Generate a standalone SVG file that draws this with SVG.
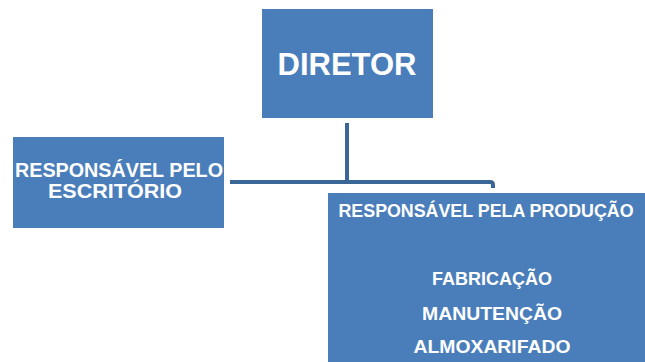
<svg xmlns="http://www.w3.org/2000/svg" width="645" height="362" viewBox="0 0 645 362">
  <style>
    .box { fill: #4a7ebb; }
    .lbl { fill: #ffffff; font-family: "Liberation Sans", Arial, sans-serif; font-weight: bold; text-anchor: middle; }
    .link { fill: none; stroke: #3a6795; stroke-width: 4; stroke-linejoin: round; stroke-linecap: butt; }
  </style>
  <rect width="645" height="362" fill="#ffffff"/>

  <g id="connectors">
    <path class="link" d="M347 123 V182"/>
    <path class="link" d="M230 182 H490 Q493 182 493 185 V188"/>
  </g>

  <g id="diretor">
    <rect class="box" x="262" y="9" width="171" height="109"/>
    <text class="lbl" x="347" y="75" font-size="32" textLength="139" lengthAdjust="spacingAndGlyphs">DIRETOR</text>
  </g>

  <g id="escritorio">
    <rect class="box" x="13" y="137" width="211" height="91"/>
    <text class="lbl" x="119" y="177" font-size="21" textLength="208" lengthAdjust="spacingAndGlyphs">RESPONSÁVEL PELO</text>
    <text class="lbl" x="115" y="198" font-size="21" textLength="134" lengthAdjust="spacingAndGlyphs">ESCRITÓRIO</text>
  </g>

  <g id="producao">
    <rect class="box" x="328" y="193" width="317" height="169"/>
    <text class="lbl" x="486" y="217" font-size="17.5" textLength="295" lengthAdjust="spacingAndGlyphs">RESPONSÁVEL PELA PRODUÇÃO</text>
    <text class="lbl" x="492" y="285" font-size="18" textLength="120" lengthAdjust="spacingAndGlyphs">FABRICAÇÃO</text>
    <text class="lbl" x="492" y="320" font-size="18" textLength="140" lengthAdjust="spacingAndGlyphs">MANUTENÇÃO</text>
    <text class="lbl" x="492" y="353" font-size="18" textLength="157" lengthAdjust="spacingAndGlyphs">ALMOXARIFADO</text>
  </g>
</svg>
